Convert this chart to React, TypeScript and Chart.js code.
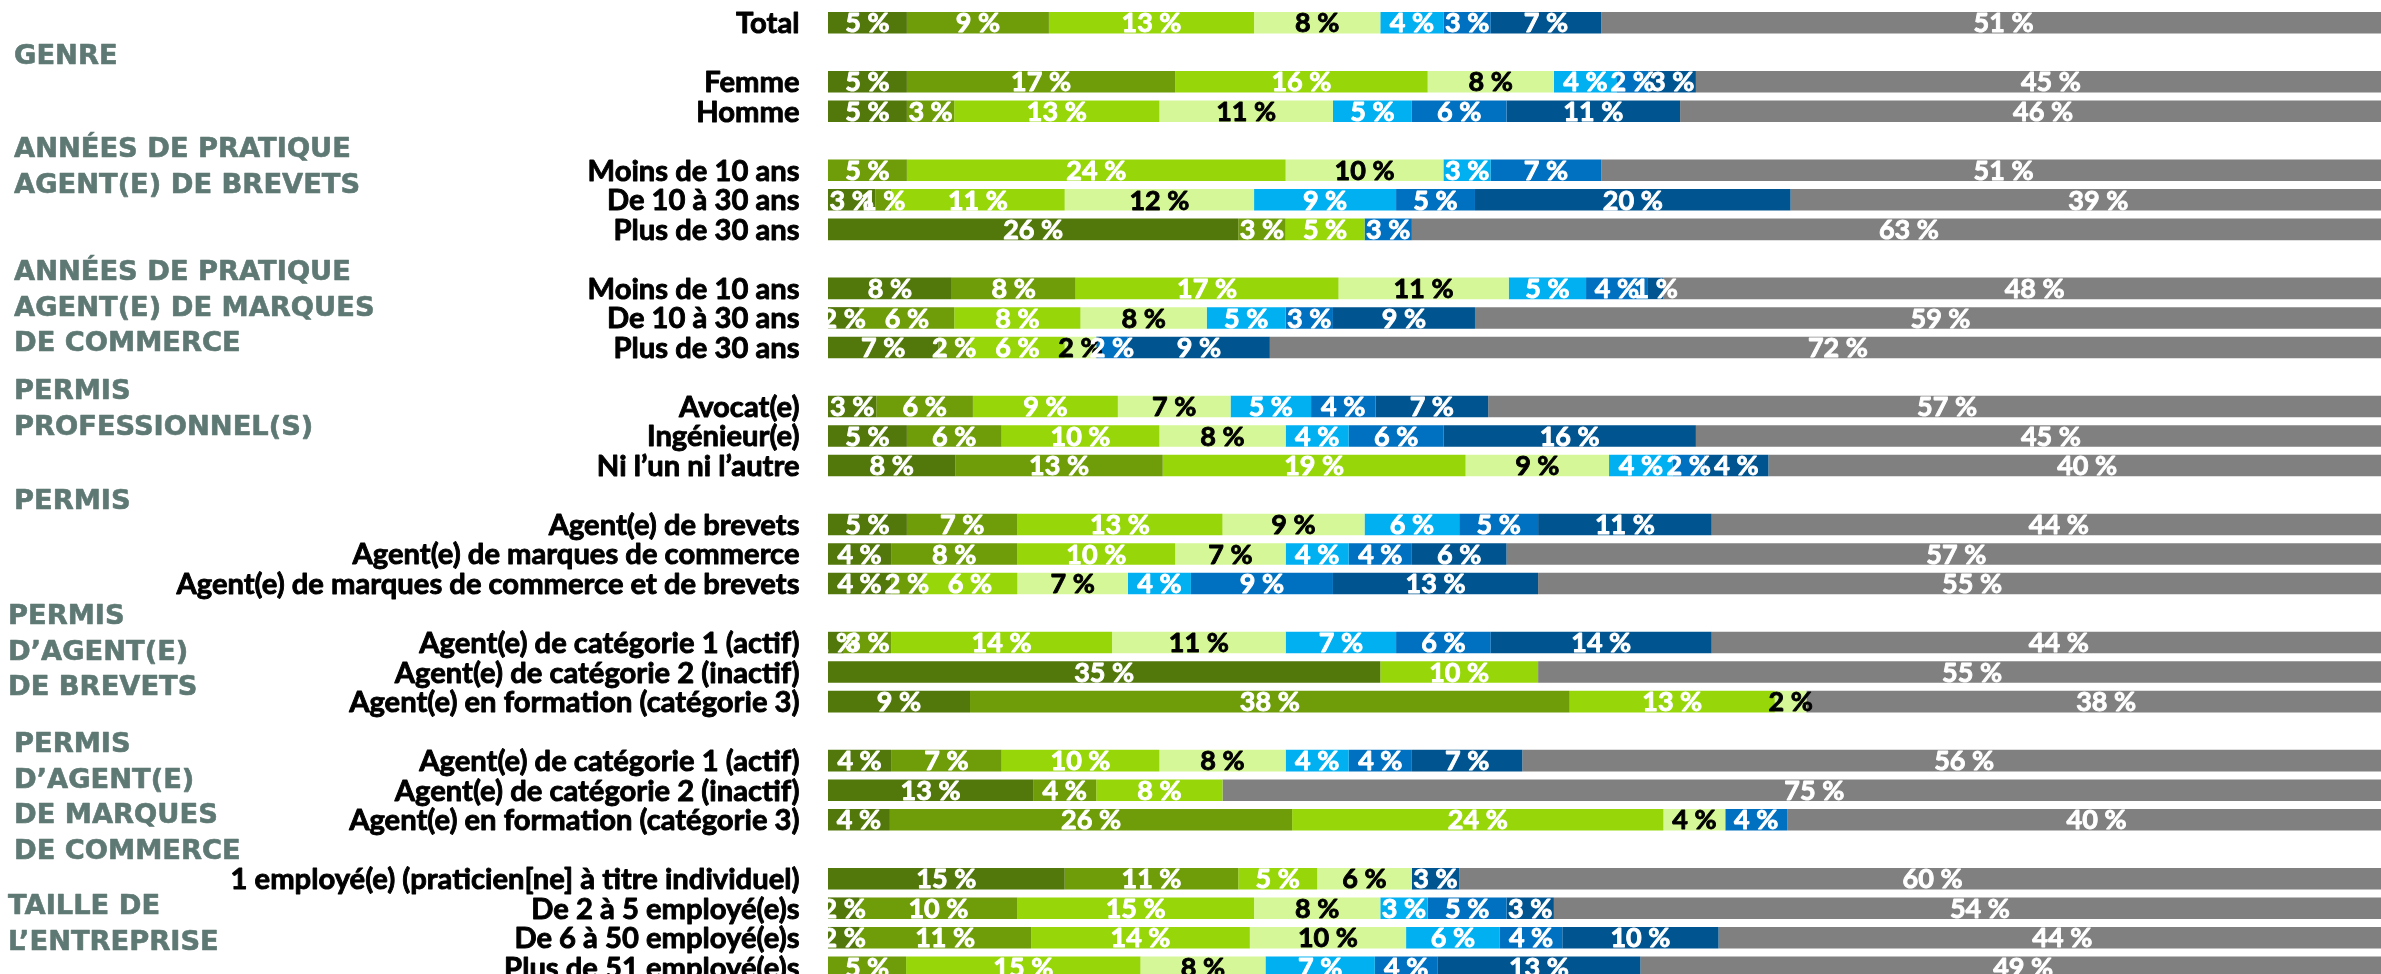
import React, { useEffect, useRef } from "react";
import { Chart, registerables } from "chart.js";

Chart.register(...registerables);

const categories = [
  "Total", "",
  "Femme", "Homme", "",
  "Moins de 10 ans", "De 10 à 30 ans", "Plus de 30 ans", "",
  "Moins de 10 ans", "De 10 à 30 ans", "Plus de 30 ans", "",
  "Avocat(e)", "Ingénieur(e)", "Ni l’un ni l’autre", "",
  "Agent(e) de brevets", "Agent(e) de marques de commerce", "Agent(e) de marques de commerce et de brevets", "",
  "Agent(e) de catégorie 1 (actif)", "Agent(e) de catégorie 2 (inactif)", "Agent(e) en formation (catégorie 3)", "",
  "Agent(e) de catégorie 1 (actif)", "Agent(e) de catégorie 2 (inactif)", "Agent(e) en formation (catégorie 3)", "",
  "1 employé(e) (praticien[ne] à titre individuel)", "De 2 à 5 employé(e)s", "De 6 à 50 employé(e)s", "Plus de 51 employé(e)s",
];

const s1 = [5, null, 5, 5, null, 0, 3, 26, null, 8, 2, 7, null, 3, 5, 8, null, 5, 4, 4, null, 1, 35, 9, null, 4, 13, 4, null, 15, 2, 2, 0];
const s2 = [9, null, 17, 3, null, 5, 1, 3, null, 8, 6, 2, null, 6, 6, 13, null, 7, 8, 2, null, 3, 0, 38, null, 7, 4, 26, null, 11, 10, 11, 5];
const s3 = [13, null, 16, 13, null, 24, 11, 5, null, 17, 8, 6, null, 9, 10, 19, null, 13, 10, 6, null, 14, 10, 13, null, 10, 8, 24, null, 5, 15, 14, 15];
const s4 = [8, null, 8, 11, null, 10, 12, 0, null, 11, 8, 2, null, 7, 8, 9, null, 9, 7, 7, null, 11, 0, 2, null, 8, 0, 4, null, 6, 8, 10, 8];
const s5 = [4, null, 4, 5, null, 3, 9, 0, null, 5, 5, 0, null, 5, 4, 4, null, 6, 4, 4, null, 7, 0, 0, null, 4, 0, 0, null, 0, 3, 6, 7];
const s6 = [3, null, 2, 6, null, 7, 5, 3, null, 4, 3, 2, null, 4, 6, 2, null, 5, 4, 9, null, 6, 0, 0, null, 4, 0, 4, null, 0, 5, 4, 4];
const s7 = [7, null, 3, 11, null, 0, 20, 0, null, 1, 9, 9, null, 7, 16, 4, null, 11, 6, 13, null, 14, 0, 0, null, 7, 0, 0, null, 3, 3, 10, 13];
const s8 = [51, null, 45, 46, null, 51, 39, 63, null, 48, 59, 72, null, 57, 45, 40, null, 44, 57, 55, null, 44, 55, 38, null, 56, 75, 40, null, 60, 54, 44, 49];

const seriesValues = [s1, s2, s3, s4, s5, s6, s7, s8];
const seriesColors = ["#52770A", "#6F9D0A", "#97D70A", "#D6F797", "#00B0F0", "#0070C0", "#00548F", "#808080"];
const labelColors = ["#FFFFFF", "#FFFFFF", "#FFFFFF", "#000000", "#FFFFFF", "#FFFFFF", "#FFFFFF", "#FFFFFF"];

// each row is drawn as a share of its own total (100 % stacked bar)
const rowTotals = categories.map((_, i) =>
  seriesValues.reduce((acc, s) => acc + (s[i] ?? 0), 0)
);

const groupTitles = [
  ["GENRE"],
  ["ANNÉES DE PRATIQUE", "AGENT(E) DE BREVETS"],
  ["ANNÉES DE PRATIQUE", "AGENT(E) DE MARQUES", "DE COMMERCE"],
  ["PERMIS", "PROFESSIONNEL(S)"],
  ["PERMIS"],
  ["PERMIS", "D’AGENT(E)", "DE BREVETS"],
  ["PERMIS", "D’AGENT(E)", "DE MARQUES", "DE COMMERCE"],
  ["TAILLE DE", "L’ENTREPRISE"],
];
// layout (pixel positions of group title first line)
const groupLayout = [
  { x: 14, y: 57 },
  { x: 14, y: 150 },
  { x: 14, y: 273 },
  { x: 14, y: 392 },
  { x: 14, y: 502 },
  { x: 8, y: 617 },
  { x: 14, y: 745 },
  { x: 8, y: 907 },
];
const GROUP_LINE = 35.5;

const FONT = "Lato, 'Noto Sans', sans-serif";
const GROUP_FONT = "'DejaVu Sans', sans-serif";

function heavyText(ctx: CanvasRenderingContext2D, text: string, x: number, y: number, color: string, w: number) {
  ctx.fillStyle = color;
  ctx.strokeStyle = color;
  ctx.lineWidth = w;
  ctx.lineJoin = "round";
  ctx.strokeText(text, x, y);
  ctx.fillText(text, x, y);
}

const labelsPlugin = {
  id: "customLabels",
  afterDatasetsDraw(chart: any) {
    const ctx = chart.ctx;
    ctx.save();
    ctx.font = `700 27px ${FONT}`;
    ctx.textAlign = "center";
    ctx.textBaseline = "middle";
    chart.data.datasets.forEach((ds: any, di: number) => {
      const meta = chart.getDatasetMeta(di);
      const raw = seriesValues[di];
      meta.data.forEach((el: any, i: number) => {
        const v = raw[i];
        if (v === null || v === undefined || v <= 0) return;
        const p = el.getProps(["x", "y", "base"], true);
        const cx = (p.x + p.base) / 2;
        heavyText(ctx, `${v} %`, cx, p.y + 1, labelColors[di], 0.9);
      });
    });
    ctx.restore();
  },
  afterDraw(chart: any) {
    const ctx = chart.ctx;
    const yScale = chart.scales.y;
    ctx.save();
    ctx.font = `700 29.2px ${FONT}`;
    ctx.textAlign = "right";
    ctx.textBaseline = "middle";
    categories.forEach((c, i) => {
      if (!c) return;
      heavyText(ctx, c, chart.chartArea.left - 28.5, yScale.getPixelForValue(i) + 1, "#000000", 0.9);
    });
    ctx.font = `700 27.3px ${GROUP_FONT}`;
    ctx.textAlign = "left";
    groupTitles.forEach((lines, gi) => {
      const g = groupLayout[gi];
      lines.forEach((t, li) => {
        heavyText(ctx, t, g.x, g.y + li * GROUP_LINE, "#5E7873", 0.6);
      });
    });
    ctx.restore();
  },
};

export default function App() {
  const ref = useRef<HTMLCanvasElement | null>(null);
  useEffect(() => {
    const canvas = ref.current;
    if (!canvas) return;
    canvas.width = 2406;
    canvas.height = 982;
    const chart = new Chart(canvas, {
      type: "bar",
      data: {
        labels: categories,
        datasets: seriesValues.map((vals, i) => ({
          label: `s${i + 1}`,
          data: vals.map((v, r) => (v === null ? null : (v / rowTotals[r]) * 100)),
          backgroundColor: seriesColors[i],
          borderWidth: 0,
          barPercentage: 0.73,
          categoryPercentage: 1,
        })),
      },
      options: {
        indexAxis: "y",
        responsive: false,
        animation: false,
        devicePixelRatio: 1,
        layout: { padding: { left: 828, top: 8, right: 0, bottom: 0 } },
        plugins: { legend: { display: false }, tooltip: { enabled: false }, title: { display: false } },
        scales: {
          x: { stacked: true, min: 0, max: 100, display: false },
          y: { stacked: true, display: false },
        },
      },
      plugins: [labelsPlugin],
    });
    return () => chart.destroy();
  }, []);
  return (
    <div style={{ position: "fixed", left: 0, top: 0, width: "100vw", height: "100vh", overflow: "hidden", background: "#fff" }}>
      <canvas ref={ref} width={2406} height={982} style={{ display: "block", width: "2406px", height: "982px" }} />
    </div>
  );
}
